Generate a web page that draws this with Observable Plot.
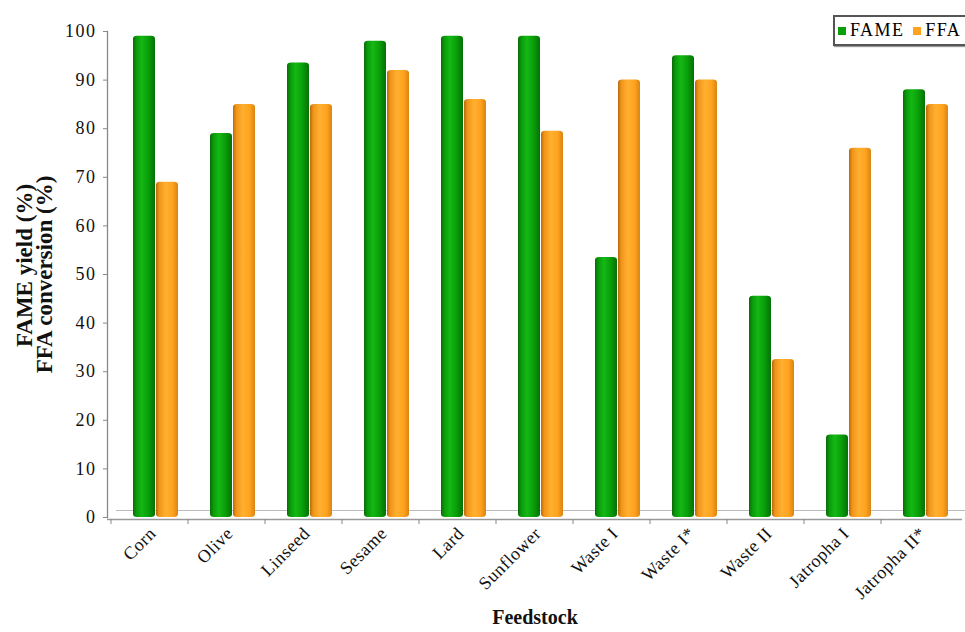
<!DOCTYPE html>
<html>
<head>
<meta charset="utf-8">
<script src="https://cdn.jsdelivr.net/npm/d3@7"></script>
<script src="https://cdn.jsdelivr.net/npm/@observablehq/plot@0.6"></script>
<style>
  html, body { margin: 0; padding: 0; background: #fff; overflow: hidden; }
  #wrap { position: relative; width: 965px; height: 632px; overflow: hidden; }
  #legend { position: absolute; left: 833px; top: 15px; height: 31px; width: 180px;
    border: 2px solid #555; box-shadow: 1px 1px 1px #999; background: #fff; font-family: "Liberation Serif", serif; font-size: 18px;
    letter-spacing: 1.4px; white-space: nowrap; display: flex; align-items: center; padding-left: 3px; box-sizing: border-box; }
  #legend .sw { display: inline-block; width: 8px; height: 8px; margin-right: 4px; }
  #legend .it { margin-right: 9px; display: inline-flex; align-items: center; }
  g[aria-label="y-axis tick label"] text { letter-spacing: 1.5px; }
  g[aria-label="x-axis tick label"] text { letter-spacing: 0.5px; }
</style>
</head>
<body>
<div id="wrap">
  <div id="chart"></div>
  <div id="legend"></div>
</div>
<script>
const categories = ["Corn", "Olive", "Linseed", "Sesame", "Lard", "Sunflower", "Waste I", "Waste I*", "Waste II", "Jatropha I", "Jatropha II*"];
const fame = [99, 79, 93.5, 98, 99, 99, 53.5, 95, 45.5, 17, 88];
const ffa = [69, 85, 85, 92, 86, 79.5, 90, 90, 32.5, 76, 85];
const seriesNames = ["FAME", "FFA"];
const seriesColors = ["#0a9e0a", "#ffa31f"];
const yTicks = [0, 10, 20, 30, 40, 50, 60, 70, 80, 90, 100];

const fameData = categories.map((c, i) => ({category: c, value: fame[i]}));
const ffaData = categories.map((c, i) => ({category: c, value: ffa[i]}));

const serif = "Liberation Serif, Times New Roman, serif";
const inset = 27.5;

const chart = Plot.plot({
  width: 965,
  height: 632,
  marginTop: 31,
  marginBottom: 115,
  marginLeft: 107,
  marginRight: 3,
  style: {fontFamily: serif, fontSize: "15px", color: "#111", background: "#fff", overflow: "visible"},
  x: {domain: categories, padding: 0, label: null},
  y: {domain: [0, 100], label: null},
  marks: [
    Plot.frame({anchor: "left", stroke: "#888", strokeWidth: 1.3}),
    Plot.ruleY([0], {stroke: "#999", strokeWidth: 1.3, dy: 2}),
    Plot.ruleY([0], {stroke: "#bbb", strokeWidth: 1, dy: -7, dx: 9}),
    Plot.barY(fameData, {x: "category", y: "value", fill: "url(#gradGreen)", insetLeft: inset, insetRight: inset, dx: -5.5, rx: 4, ry: 3}),
    Plot.barY(ffaData, {x: "category", y: "value", fill: "url(#gradOrange)", insetLeft: inset, insetRight: inset, dx: 17.5, rx: 4, ry: 3}),
    Plot.axisY({ticks: yTicks, tickSize: 4, tickPadding: 7, stroke: "#888", fontSize: 18, label: null}),
    Plot.axisX({tickSize: 5, text: null, dx: -39, dy: 2, stroke: "#888", label: null}),
    Plot.axisX({tickSize: 0, tickRotate: -45, tickPadding: 13, dx: 3, fontSize: 18, label: null}),
    Plot.text(["Feedstock"], {frameAnchor: "bottom", dy: 106, text: d => d, fontWeight: "bold", fontSize: 20, fontFamily: serif}),
    Plot.text(["FAME yield (%)"], {frameAnchor: "left", textAnchor: "middle", dx: -83, dy: -9, rotate: -90, text: d => d, fontWeight: "bold", fontSize: 23, fontFamily: serif}),
    Plot.text(["FFA conversion (%)"], {frameAnchor: "left", textAnchor: "middle", dx: -63, dy: 0, rotate: -90, text: d => d, fontWeight: "bold", fontSize: 23, fontFamily: serif})
  ]
});

// gradients for the cylindrical bar look
const ns = "http://www.w3.org/2000/svg";
const defs = document.createElementNS(ns, "defs");
function grad(id, stops) {
  const g = document.createElementNS(ns, "linearGradient");
  g.setAttribute("id", id);
  g.setAttribute("x1", "0"); g.setAttribute("x2", "1"); g.setAttribute("y1", "0"); g.setAttribute("y2", "0");
  stops.forEach(([o, c]) => {
    const s = document.createElementNS(ns, "stop");
    s.setAttribute("offset", o); s.setAttribute("stop-color", c);
    g.appendChild(s);
  });
  defs.appendChild(g);
}
grad("gradGreen", [[0, "#0a6a0a"], [0.15, "#0a9a0a"], [0.4, "#14b814"], [0.7, "#0a9e0a"], [1, "#067006"]]);
grad("gradOrange", [[0, "#b86a0a"], [0.15, "#f0951a"], [0.45, "#ffb030"], [0.75, "#ffa31f"], [1, "#d98512"]]);
chart.insertBefore(defs, chart.firstChild);

document.getElementById("chart").appendChild(chart);

const legend = document.getElementById("legend");
seriesNames.forEach((n, i) => {
  const it = document.createElement("span");
  it.className = "it";
  const sw = document.createElement("span");
  sw.className = "sw";
  sw.style.background = seriesColors[i];
  it.appendChild(sw);
  it.appendChild(document.createTextNode(n));
  legend.appendChild(it);
});
</script>
</body>
</html>
